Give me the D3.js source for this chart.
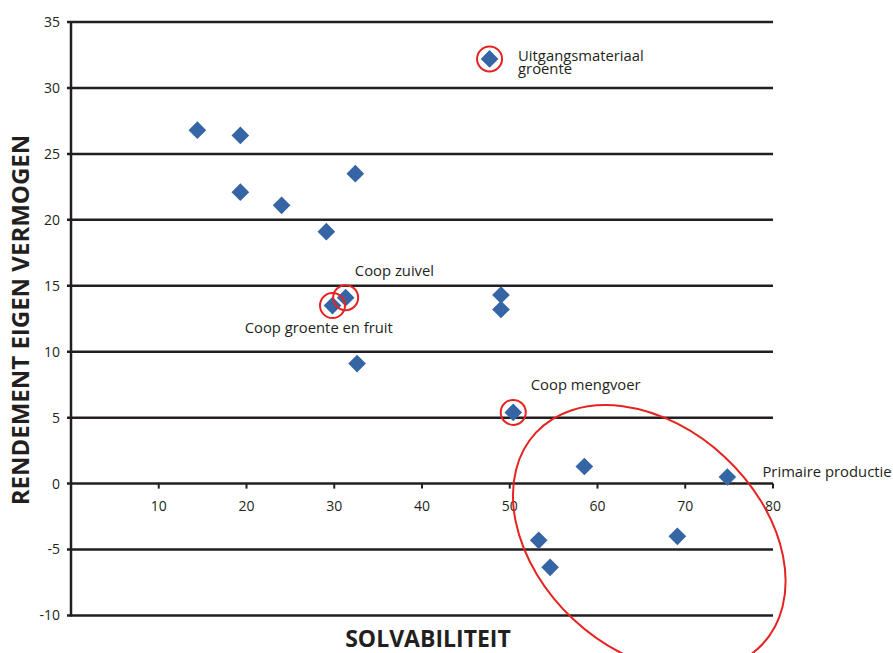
<!DOCTYPE html>
<html>
<head>
<meta charset="utf-8">
<script src="https://cdn.jsdelivr.net/npm/d3@7"></script>
<style>
  html, body { margin: 0; padding: 0; background: #fff; }
  svg { display: block; }
  text { font-family: "Open Sans", "Noto Sans", sans-serif; fill: #231f20; }
</style>
</head>
<body>
<svg id="chart" width="893" height="653"></svg>
<script>
// ---- data ----
const solvabiliteit = [14.4, 19.3, 19.3, 24.0, 29.1, 32.4, 29.8, 31.3, 32.6, 49.0, 49.0, 47.7, 50.4, 58.5, 74.8, 53.3, 54.6, 69.1];
const rendement     = [26.8, 26.4, 22.1, 21.1, 19.1, 23.5, 13.5, 14.1, 9.1, 14.3, 13.2, 32.2, 5.4, 1.3, 0.5, -4.3, -6.35, -4.0];
const xTicks = [10, 20, 30, 40, 50, 60, 70, 80];
const yTicks = [-10, -5, 0, 5, 10, 15, 20, 25, 30, 35];
const highlighted = [11, 6, 7, 12]; // indices circled in red
const labelText = [
  ["Uitgangsmateriaal", "groente"],
  ["Coop zuivel"],
  ["Coop groente en fruit"],
  ["Coop mengvoer"],
  ["Primaire productie"]
];
const labelAnchorX = [50.95, 32.35, 19.8, 52.4, 78.8];
const labelAnchorY = [32.04, 15.76, 11.44, 7.1, 0.52];
const ellipseCenter = [65.9, -4.15];

// ---- layout ----
const svg = d3.select("#chart");
const x = d3.scaleLinear().domain([0, 80]).range([71, 773]);
const y = d3.scaleLinear().domain([-10, 35]).range([615.5, 22]);
const dark = "#231f20";
const red = "#e52421";
const blue = "#3565a5";

// horizontal gridlines
svg.append("g").selectAll("line").data(yTicks).join("line")
  .attr("x1", x(0) - 4).attr("x2", x(80))
  .attr("y1", d => y(d)).attr("y2", d => y(d))
  .attr("stroke", dark).attr("stroke-width", 2.5);

// y axis line
svg.append("line")
  .attr("x1", x(0)).attr("x2", x(0))
  .attr("y1", y(35) - 1).attr("y2", y(-10) + 1)
  .attr("stroke", dark).attr("stroke-width", 2.5);

// y tick labels
svg.append("g").selectAll("text").data(yTicks).join("text")
  .attr("x", 60).attr("y", d => y(d)).attr("dy", "0.35em")
  .attr("text-anchor", "end").attr("font-size", 14)
  .text(d => d);

// x ticks on the zero line
svg.append("g").selectAll("line").data(xTicks).join("line")
  .attr("x1", d => x(d)).attr("x2", d => x(d))
  .attr("y1", y(0)).attr("y2", y(0) + 5)
  .attr("stroke", dark).attr("stroke-width", 2);
svg.append("g").selectAll("text").data(xTicks).join("text")
  .attr("x", d => x(d)).attr("y", y(0) + 27)
  .attr("text-anchor", "middle").attr("font-size", 14)
  .text(d => d);

// axis titles
svg.append("text")
  .attr("transform", `translate(29, 320) rotate(-90)`)
  .attr("text-anchor", "middle").attr("font-size", 24).attr("font-weight", "bold")
  .text("RENDEMENT EIGEN VERMOGEN");
svg.append("text")
  .attr("x", 428).attr("y", 647)
  .attr("text-anchor", "middle").attr("font-size", 23).attr("font-weight", "bold")
  .text("SOLVABILITEIT");

// points
const pts = solvabiliteit.map((d, i) => ({ x: d, y: rendement[i] }));
svg.append("g").selectAll("path").data(pts).join("path")
  .attr("d", d3.symbol(d3.symbolSquare, 156))
  .attr("transform", d => `translate(${x(d.x)},${y(d.y)}) rotate(45)`)
  .attr("fill", blue);

// red circles
svg.append("g").selectAll("circle").data(highlighted).join("circle")
  .attr("cx", i => x(pts[i].x)).attr("cy", i => y(pts[i].y))
  .attr("r", 12.5).attr("fill", "none").attr("stroke", red).attr("stroke-width", 2);

// big ellipse
svg.append("ellipse")
  .attr("transform", `translate(${x(ellipseCenter[0])},${y(ellipseCenter[1])}) rotate(43)`)
  .attr("rx", 155).attr("ry", 111)
  .attr("fill", "none").attr("stroke", red).attr("stroke-width", 2);

// labels
const lbl = svg.append("g");
labelText.forEach((lines, k) => {
  const t = lbl.append("text")
    .attr("x", x(labelAnchorX[k])).attr("y", y(labelAnchorY[k]))
    .attr("font-size", 14.8).attr("fill", "#333");
  lines.forEach((s, j) => {
    t.append("tspan").attr("x", x(labelAnchorX[k])).attr("dy", j === 0 ? 0 : 12.5).text(s);
  });
});
</script>
</body>
</html>
